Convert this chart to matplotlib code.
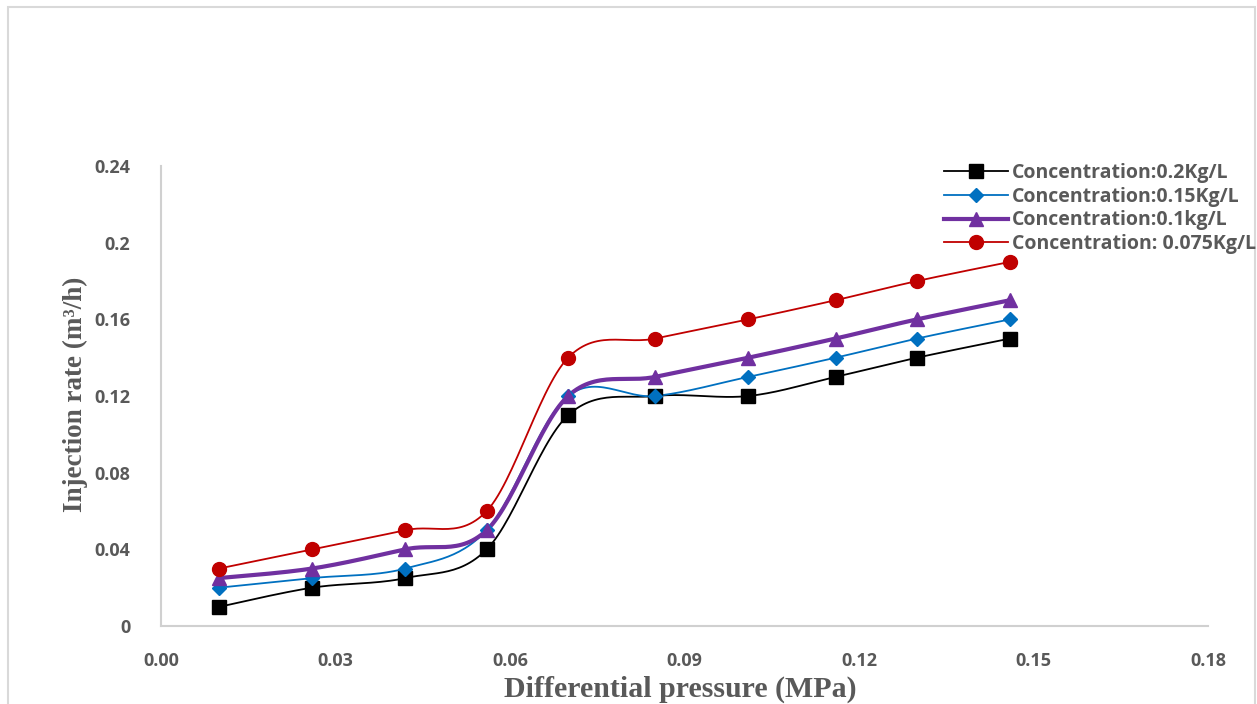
import numpy as np
import matplotlib
matplotlib.use("Agg")
import matplotlib.pyplot as plt
from matplotlib.patches import Rectangle
from matplotlib import font_manager

# ---- data ----
pressure = [0.010, 0.026, 0.042, 0.056, 0.070, 0.085, 0.101, 0.116, 0.130, 0.146]
rate_02 = [0.010, 0.020, 0.025, 0.040, 0.110, 0.120, 0.120, 0.130, 0.140, 0.150]
rate_015 = [0.020, 0.025, 0.030, 0.050, 0.120, 0.120, 0.130, 0.140, 0.150, 0.160]
rate_01 = [0.025, 0.030, 0.040, 0.050, 0.120, 0.130, 0.140, 0.150, 0.160, 0.170]
rate_0075 = [0.030, 0.040, 0.050, 0.060, 0.140, 0.150, 0.160, 0.170, 0.180, 0.190]
labels = ["Concentration:0.2Kg/L", "Concentration:0.15Kg/L",
          "Concentration:0.1kg/L", "Concentration: 0.075Kg/L"]
x_ticks = [0.00, 0.03, 0.06, 0.09, 0.12, 0.15, 0.18]
x_ticklabels = ["0.00", "0.03", "0.06", "0.09", "0.12", "0.15", "0.18"]
y_ticks = [0, 0.04, 0.08, 0.12, 0.16, 0.2, 0.24]
y_ticklabels = ["0", "0.04", "0.08", "0.12", "0.16", "0.2", "0.24"]


def smooth(xs, ys, n=30):
    """Excel-like smoothed line (Catmull-Rom Bezier)."""
    P = np.column_stack([xs, ys]).astype(float)
    Pe = np.vstack([P[0], P, P[-1]])
    out = []
    t = np.linspace(0, 1, n)[:, None]
    for i in range(len(P) - 1):
        p0 = Pe[i + 1]
        p3 = Pe[i + 2]
        c1 = p0 + (Pe[i + 2] - Pe[i]) / 6.0
        c2 = p3 - (Pe[i + 3] - Pe[i + 1]) / 6.0
        seg = ((1 - t) ** 3) * p0 + 3 * ((1 - t) ** 2) * t * c1 + 3 * (1 - t) * t ** 2 * c2 + t ** 3 * p3
        out.append(seg if i == 0 else seg[1:])
    s = np.vstack(out)
    return s[:, 0], s[:, 1]


avail = {f.name for f in font_manager.fontManager.ttflist}
sans = "Open Sans" if "Open Sans" in avail else "DejaVu Sans"
narrow = "Liberation Sans Narrow" if "Liberation Sans Narrow" in avail else sans
serif = "Liberation Serif"
gray = "#595959"

W, H = 1257, 704
fig = plt.figure(figsize=(W / 100, H / 100), dpi=100)
ax = fig.add_axes([161 / W, 1 - 626 / H, (1208 - 161) / W, (626 - 166) / H])

series = [
    (rate_02, "black", "s", 1.3, 10),
    (rate_015, "#0070C0", "D", 1.3, 7.5),
    (rate_01, "#7030A0", "^", 3.0, 10),
    (rate_0075, "#C00000", "o", 1.3, 10),
]
for (ys, c, m, lw, ms), lab in zip(series, labels):
    sx, sy = smooth(pressure, ys)
    ax.plot(sx, sy, color=c, lw=lw, zorder=2)
    ax.plot(pressure, ys, ls="none", marker=m, color=c, ms=ms, zorder=3)
    ax.plot([], [], color=c, lw=lw, marker=m, ms=ms, label=lab)

ax.set_xlim(0, 0.18)
ax.set_ylim(0, 0.24)
ax.set_xticks(x_ticks)
ax.set_xticklabels(x_ticklabels, fontfamily=narrow, fontweight="bold", fontsize=13, color=gray)
ax.set_yticks(y_ticks)
ax.set_yticklabels(y_ticklabels, fontfamily=sans, fontweight="bold", fontsize=13, color=gray)
ax.tick_params(axis="both", length=0)
ax.tick_params(axis="y", pad=22)
ax.tick_params(axis="x", pad=19)
for s in ["top", "right"]:
    ax.spines[s].set_visible(False)
for s in ["left", "bottom"]:
    ax.spines[s].set_color("#d0d0d0")
    ax.spines[s].set_linewidth(1.5)

fig.text(75 / W, 1 - 394 / H, "Injection rate (m³/h)", rotation=90, ha="center", va="center",
         fontfamily=serif, fontweight="bold", fontsize=19.5, color=gray)
fig.text(680 / W, 1 - 689 / H, "Differential pressure (MPa)", ha="center", va="center",
         fontfamily=serif, fontweight="bold", fontsize=21.5, color=gray)

leg = fig.legend(loc="upper left", bbox_to_anchor=(944 / W, 1 - 163 / H), frameon=False,
                 borderpad=0, borderaxespad=0, handlelength=3.3, handletextpad=0.2,
                 labelspacing=0.19, prop={"family": sans, "weight": "bold", "size": 14})
for t in leg.get_texts():
    t.set_color(gray)

fig.patches.append(Rectangle((8 / W, -0.05), (1255 - 8) / W, 1 - 7 / H + 0.05,
                             transform=fig.transFigure, fill=False, edgecolor="#d9d9d9",
                             lw=1.5, figure=fig))

fig.savefig("out.png", dpi=100)
